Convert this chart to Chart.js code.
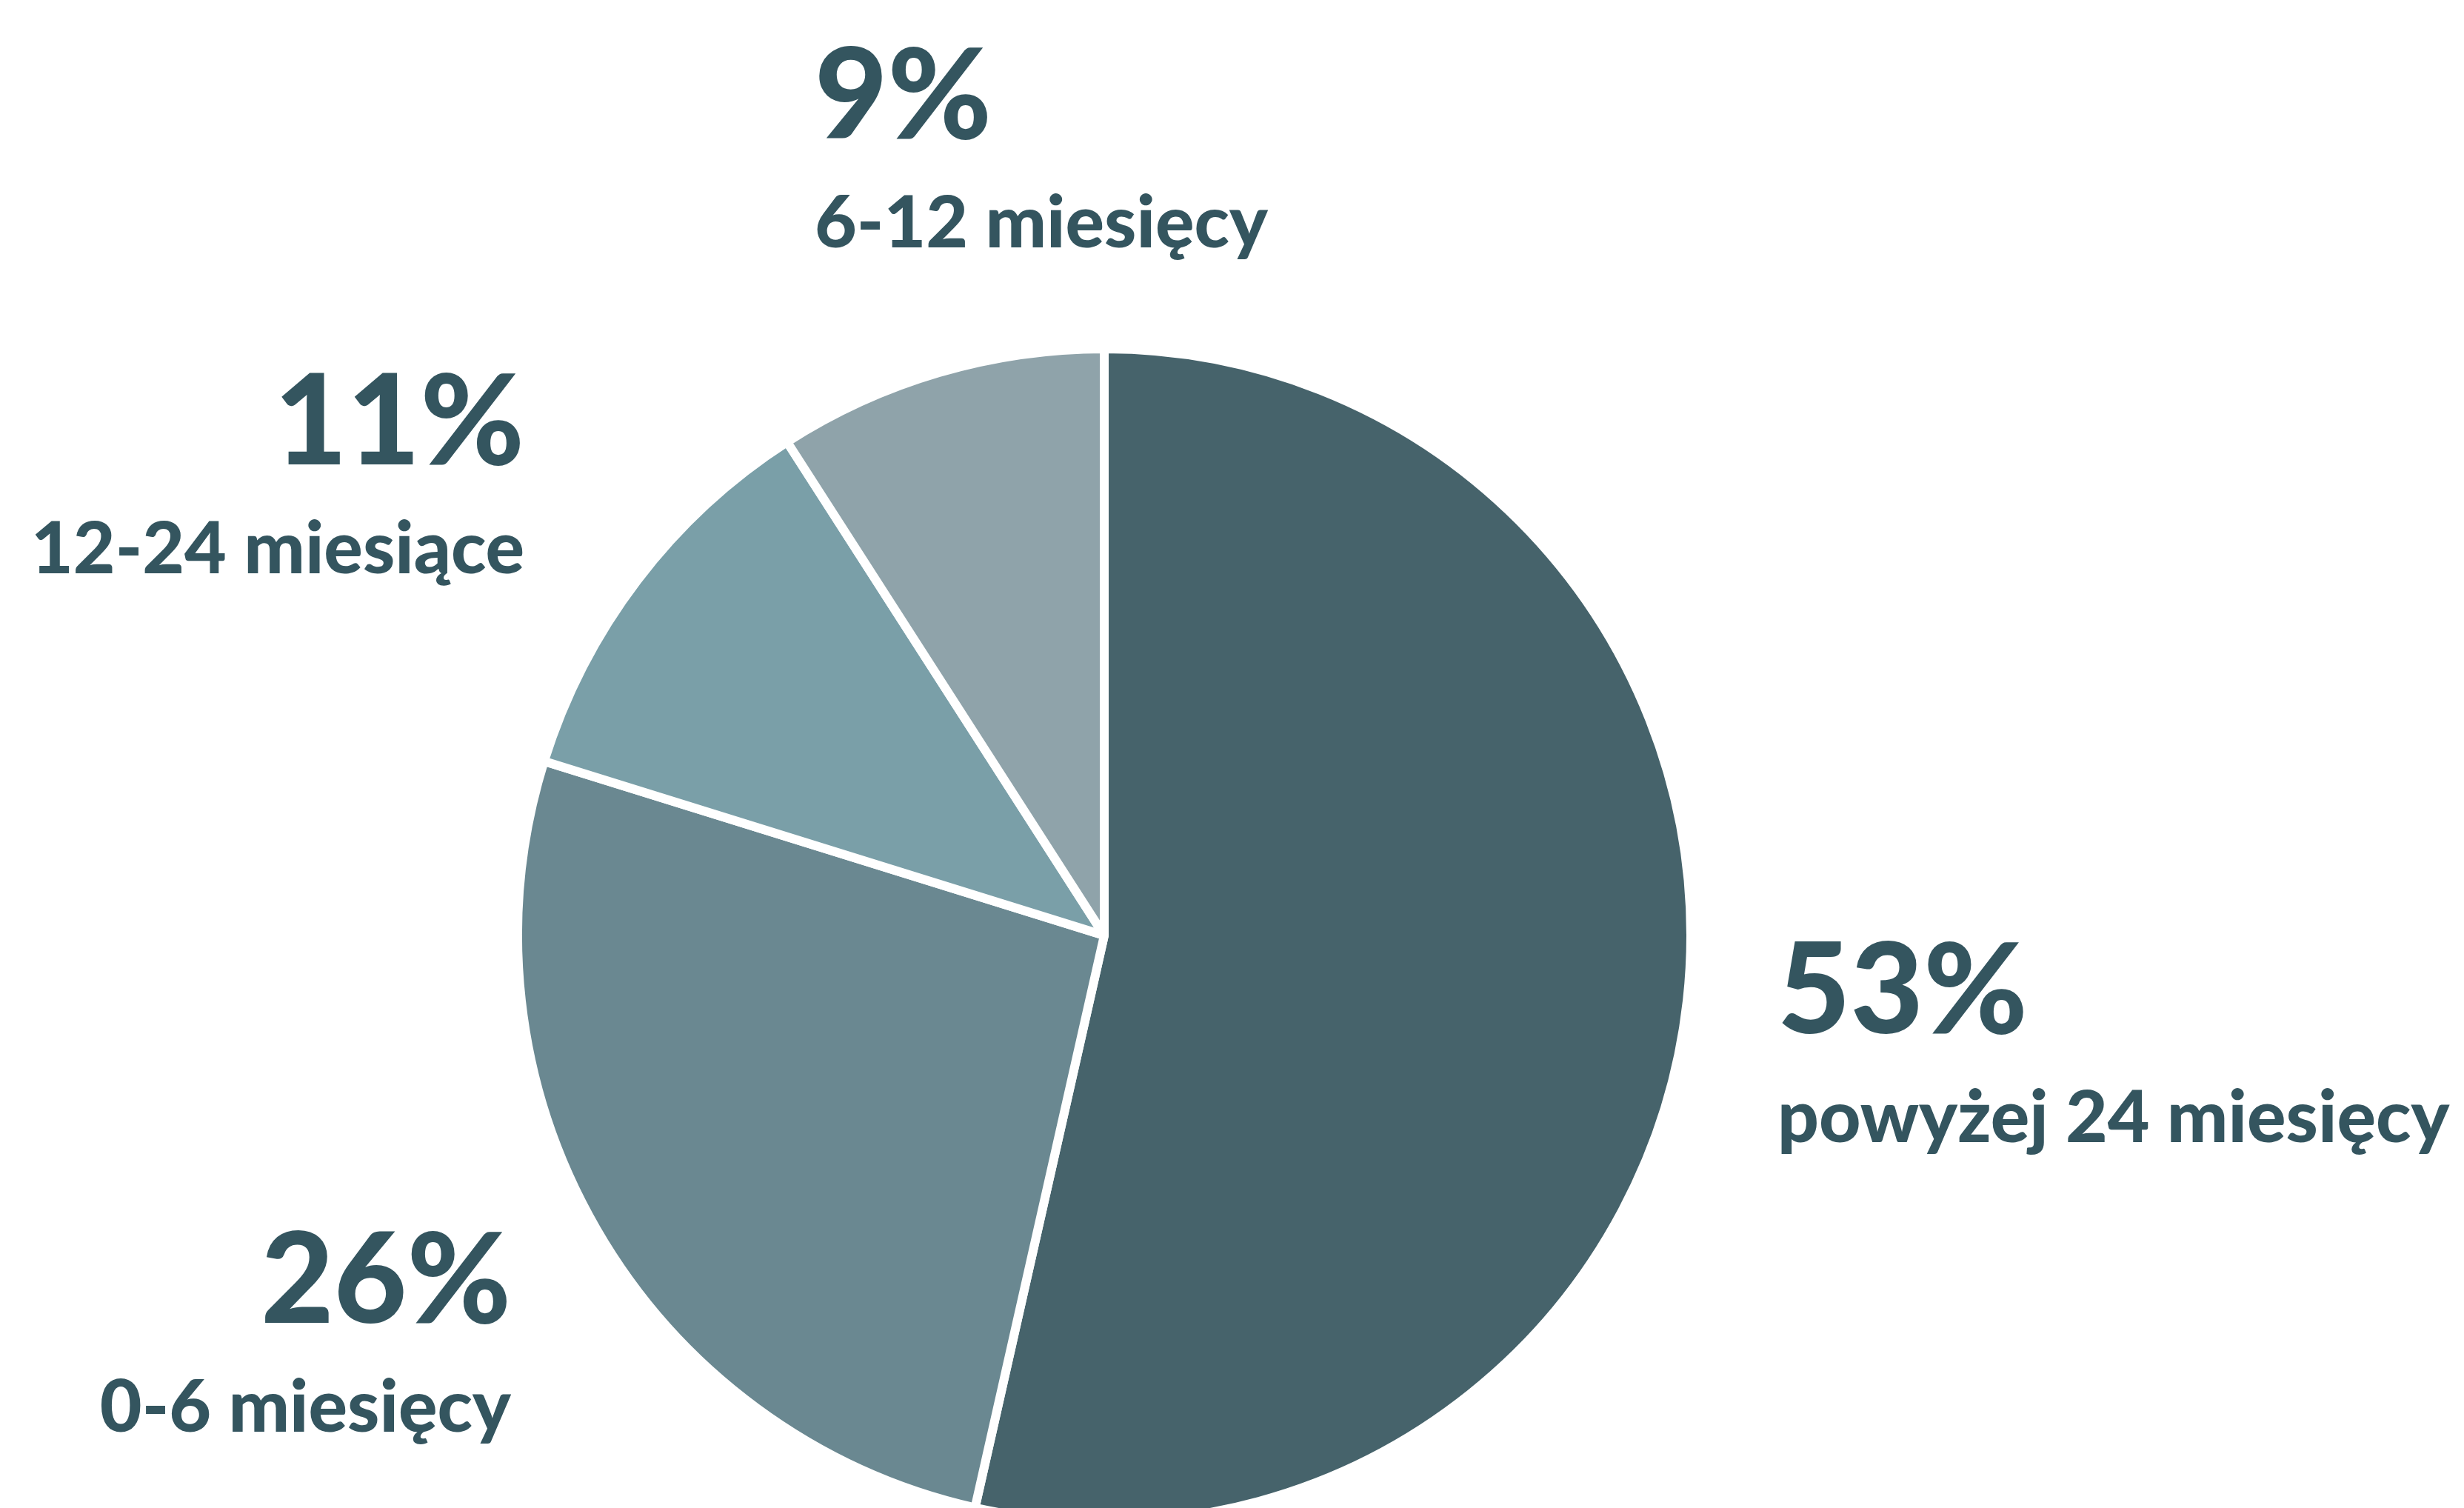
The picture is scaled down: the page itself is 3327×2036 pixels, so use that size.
<!DOCTYPE html>
<html>
<head>
<meta charset="utf-8">
<script src="https://cdn.jsdelivr.net/npm/chart.js@4"></script>
<style>
  html, body { margin: 0; padding: 0; background: #ffffff; overflow: hidden; }
  #wrap { position: relative; width: 3327px; height: 2036px; }
</style>
</head>
<body>
<div id="wrap"><canvas id="pie"></canvas></div>
<script>
const categories = ['powyżej 24 miesięcy', '0-6 miesięcy', '12-24 miesiące', '6-12 miesięcy'];
const shares = [53, 26, 11, 9];
const sliceColors = ['#46636b', '#6a8891', '#7a9fa8', '#8fa3aa'];

// where each label block sits: x, baseline of the big number, alignment
const labelSpots = [
  { x: 2400, y: 1395, align: 'left' },
  { x: 690, y: 1786, align: 'right' },
  { x: 708, y: 627, align: 'right' },
  { x: 1100, y: 187, align: 'left' },
];

const TEXT_COLOR = '#34555f';
const BIG_FONT = '170px "Lato Black", Lato';
const SMALL_FONT = '98px "Lato Heavy", Lato';

const sliceLabels = {
  id: 'sliceLabels',
  afterDraw(chart) {
    const { ctx } = chart;
    ctx.save();
    ctx.fillStyle = TEXT_COLOR;
    ctx.textBaseline = 'alphabetic';
    categories.forEach((name, i) => {
      const spot = labelSpots[i];
      ctx.textAlign = spot.align;
      ctx.font = BIG_FONT;
      ctx.fillText(shares[i] + '%', spot.x, spot.y);
      ctx.font = SMALL_FONT;
      ctx.fillText(name, spot.x, spot.y + 147);
    });
    ctx.restore();
  },
};

function draw() {
  new Chart(document.getElementById('pie'), {
    type: 'pie',
    plugins: [sliceLabels],
    data: {
      labels: categories,
      datasets: [{
        data: shares,
        backgroundColor: sliceColors,
        hoverBackgroundColor: sliceColors,
        borderColor: '#ffffff',
        borderWidth: 12,
        clip: false,
      }],
    },
    options: {
      responsive: true,
      maintainAspectRatio: false,
      animation: false,
      radius: 792,
      layout: {
        padding: { left: 0, right: 345, top: 490, bottom: 0 },
      },
      plugins: {
        legend: false,
        tooltip: { enabled: false },
      },
    },
  });
}

Promise.all([document.fonts.load(BIG_FONT, '9%'), document.fonts.load(SMALL_FONT, 'miesięcy')])
  .then(draw, draw);
</script>
</body>
</html>
